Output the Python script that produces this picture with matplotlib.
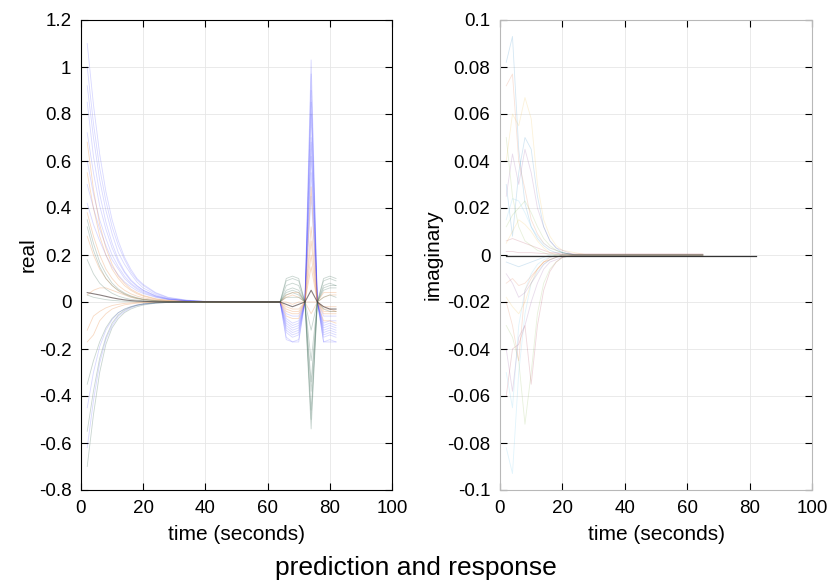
import matplotlib
matplotlib.use("Agg")
import matplotlib.pyplot as plt
from matplotlib.ticker import FuncFormatter

plt.rcParams['font.family'] = ['Liberation Sans', 'DejaVu Sans']
plt.rcParams['axes.unicode_minus'] = False

# ---------------- data: real part ----------------
t_real = [2, 4, 6, 8, 10, 12, 14, 16, 18, 20, 24, 28, 34, 40,
          64, 66, 68, 70, 72, 74, 76, 78, 80, 82]

blue_real = [
    [1.10, 0.84, 0.63, 0.47, 0.35, 0.26, 0.19, 0.14, 0.10, 0.075, 0.04, 0.02, 0.008, 0.003,
     0, -0.15, -0.17, -0.16, 0.0, 1.03, 0.0, -0.17, -0.16, -0.17],
    [1.00, 0.76, 0.57, 0.43, 0.32, 0.24, 0.18, 0.13, 0.095, 0.07, 0.037, 0.018, 0.007, 0.002,
     0, -0.13, -0.15, -0.14, 0.0, 0.90, 0.0, -0.15, -0.14, -0.15],
    [0.92, 0.70, 0.52, 0.39, 0.29, 0.21, 0.16, 0.12, 0.085, 0.06, 0.032, 0.015, 0.006, 0.002,
     0, -0.11, -0.13, -0.12, 0.0, 0.80, 0.0, -0.13, -0.12, -0.13],
    [0.85, 0.62, 0.46, 0.34, 0.25, 0.18, 0.13, 0.095, 0.07, 0.05, 0.026, 0.013, 0.005, 0.002,
     0, -0.09, -0.11, -0.10, 0.0, 0.62, 0.0, -0.11, -0.10, -0.11],
    [0.72, 0.55, 0.41, 0.31, 0.23, 0.17, 0.125, 0.09, 0.067, 0.05, 0.027, 0.014, 0.005, 0.002,
     0, -0.07, -0.09, -0.08, 0.0, 0.55, 0.0, -0.09, -0.08, -0.08],
    [0.60, 0.46, 0.35, 0.27, 0.20, 0.15, 0.11, 0.08, 0.06, 0.045, 0.024, 0.012, 0.005, 0.002,
     0, -0.12, -0.14, -0.13, 0.0, 0.70, 0.0, -0.14, -0.13, -0.14],
    [0.50, 0.40, 0.31, 0.24, 0.18, 0.14, 0.10, 0.075, 0.055, 0.04, 0.022, 0.011, 0.004, 0.001,
     0, -0.05, -0.06, -0.06, 0.0, 0.45, 0.0, -0.06, -0.06, -0.06],
    [0.42, 0.33, 0.26, 0.20, 0.15, 0.115, 0.085, 0.065, 0.048, 0.036, 0.02, 0.01, 0.004, 0.001,
     0, -0.16, -0.17, -0.17, 0.0, 0.97, 0.0, -0.17, -0.17, -0.17],
    [-0.62, -0.42, -0.26, -0.16, -0.10, -0.06, -0.04, -0.025, -0.015, -0.01, -0.004, -0.002, 0, 0,
     0, -0.10, -0.12, -0.11, 0.0, 0.85, 0.0, -0.12, -0.11, -0.12],
    [-0.45, -0.30, -0.19, -0.12, -0.075, -0.046, -0.03, -0.02, -0.012, -0.008, -0.003, -0.001, 0, 0,
     0, -0.08, -0.10, -0.09, 0.0, 0.68, 0.0, -0.10, -0.09, -0.10],
]

orange_real = [
    [0.68, 0.48, 0.33, 0.23, 0.16, 0.11, 0.08, 0.055, 0.04, 0.028, 0.014, 0.007, 0.003, 0.001,
     0, -0.04, -0.05, -0.05, 0.0, 0.49, 0.0, -0.05, -0.05, -0.05],
    [0.55, 0.40, 0.28, 0.20, 0.14, 0.10, 0.07, 0.05, 0.035, 0.025, 0.012, 0.006, 0.002, 0.001,
     0, 0.02, 0.03, 0.02, 0.0, 0.26, 0.0, 0.02, 0.03, 0.03],
    [0.38, 0.28, 0.20, 0.14, 0.10, 0.07, 0.05, 0.035, 0.025, 0.018, 0.009, 0.004, 0.002, 0,
     0, -0.06, -0.07, -0.07, 0.0, 0.32, 0.0, -0.08, -0.08, -0.09],
    [0.28, 0.20, 0.14, 0.10, 0.07, 0.05, 0.035, 0.025, 0.017, 0.012, 0.006, 0.003, 0.001, 0,
     0, 0.0, -0.01, 0.0, 0.0, -0.05, 0.0, -0.02, -0.02, -0.02],
    [0.03, 0.05, 0.06, 0.06, 0.05, 0.04, 0.03, 0.02, 0.014, 0.01, 0.005, 0.002, 0.001, 0,
     0, -0.02, -0.03, -0.03, 0.0, 0.15, 0.0, -0.03, -0.03, -0.04],
    [-0.17, -0.14, -0.08, -0.05, -0.03, -0.02, -0.012, -0.008, -0.005, -0.003, -0.001, 0, 0, 0,
     0, -0.03, -0.04, -0.04, 0.0, 0.20, 0.0, -0.04, -0.04, -0.04],
    [-0.12, -0.06, -0.04, -0.025, -0.015, -0.01, -0.006, -0.004, -0.002, -0.001, 0, 0, 0, 0,
     0, 0.03, 0.04, 0.04, 0.0, 0.0, 0.0, 0.04, 0.04, 0.04],
]

green_real = [
    [0.35, 0.25, 0.17, 0.12, 0.08, 0.055, 0.038, 0.026, 0.018, 0.012, 0.006, 0.003, 0.001, 0,
     0, 0.09, 0.10, 0.09, 0.0, -0.54, 0.0, 0.09, 0.10, 0.09],
    [0.32, 0.22, 0.15, 0.10, 0.07, 0.048, 0.033, 0.022, 0.015, 0.01, 0.005, 0.002, 0.001, 0,
     0, 0.07, 0.08, 0.07, 0.0, -0.46, 0.0, 0.07, 0.08, 0.07],
    [0.18, 0.12, 0.08, 0.055, 0.037, 0.025, 0.017, 0.011, 0.008, 0.005, 0.002, 0.001, 0, 0,
     0, 0.05, 0.06, 0.05, 0.0, -0.34, 0.0, 0.05, 0.06, 0.06],
    [0.03, 0.02, 0.015, 0.01, 0.007, 0.005, 0.003, 0.002, 0.001, 0.001, 0, 0, 0, 0,
     0, 0.02, 0.02, 0.02, 0.0, -0.12, 0.0, 0.02, 0.03, 0.02],
    [-0.70, -0.48, -0.30, -0.18, -0.11, -0.07, -0.045, -0.03, -0.02, -0.013, -0.005, -0.002, -0.001, 0,
     0, 0.10, 0.11, 0.10, 0.0, -0.50, 0.0, 0.10, 0.11, 0.10],
    [-0.55, -0.38, -0.24, -0.15, -0.09, -0.055, -0.035, -0.022, -0.014, -0.009, -0.004, -0.002, 0, 0,
     0, 0.03, 0.04, 0.03, 0.0, -0.25, 0.0, -0.03, -0.04, -0.04],
    [-0.35, -0.25, -0.17, -0.11, -0.07, -0.045, -0.03, -0.02, -0.013, -0.008, -0.003, -0.001, 0, 0,
     0, 0.04, 0.05, 0.04, 0.0, -0.38, 0.0, 0.06, 0.07, 0.07],
]

dark_real = [0.04, 0.035, 0.03, 0.024, 0.018, 0.013, 0.009, 0.006, 0.004, 0.003, 0.001, 0.0, 0.0, 0,
             0, -0.01, -0.02, -0.01, 0.0, 0.05, 0.0, -0.02, -0.03, -0.03]

# ---------------- data: imaginary part ----------------
t_imag = [2, 4, 6, 8, 10, 12, 14, 16, 18, 20, 24, 28, 34, 40, 65]

imag_series = [
    [0.082, 0.093, 0.045, 0.022, 0.012, 0.007, 0.004, 0.002, 0.001, 0.001, 0, 0, 0, 0, 0],
    [0.072, 0.077, 0.040, 0.028, 0.015, 0.009, 0.005, 0.003, 0.002, 0.001, 0, 0, 0, 0, 0],
    [0.040, 0.060, 0.055, 0.067, 0.058, 0.030, 0.015, 0.008, 0.004, 0.002, 0.001, 0, 0, 0, 0],
    [0.025, 0.043, 0.030, 0.045, 0.035, 0.020, 0.012, 0.006, 0.003, 0.002, 0, 0, 0, 0, 0],
    [0.012, 0.017, 0.020, 0.023, 0.018, 0.012, 0.007, 0.004, 0.002, 0.001, 0, 0, 0, 0, 0],
    [0.015, 0.024, 0.023, 0.018, 0.012, 0.008, 0.005, 0.003, 0.002, 0.001, 0, 0, 0, 0, 0],
    [0.006, 0.007, 0.006, 0.005, 0.004, 0.003, 0.002, 0.001, 0.001, 0, 0, 0, 0, 0, 0],
    [-0.003, -0.004, -0.005, -0.004, -0.003, -0.002, -0.001, 0, 0, 0, 0, 0, 0, 0, 0],
    [-0.012, -0.010, -0.013, -0.012, -0.009, -0.006, -0.003, -0.002, -0.001, 0, 0, 0, 0, 0, 0],
    [-0.018, -0.022, -0.025, -0.020, -0.012, -0.006, -0.003, -0.002, -0.001, 0, 0, 0, 0, 0, 0],
    [-0.040, -0.058, -0.035, -0.030, -0.020, -0.012, -0.006, -0.003, -0.002, -0.001, 0, 0, 0, 0, 0],
    [-0.030, -0.035, -0.045, -0.072, -0.050, -0.025, -0.012, -0.006, -0.003, -0.001, 0, 0, 0, 0, 0],
    [-0.082, -0.093, -0.050, -0.025, -0.012, -0.007, -0.004, -0.002, -0.001, 0, 0, 0, 0, 0, 0],
    [-0.060, -0.040, -0.038, -0.030, -0.055, -0.030, -0.015, -0.007, -0.003, -0.001, 0, 0, 0, 0, 0],
    [0.030, 0.008, 0.035, 0.050, 0.045, 0.025, 0.012, 0.006, 0.003, 0.001, 0, 0, 0, 0, 0],
    [-0.020, -0.030, -0.045, -0.015, -0.010, -0.006, -0.003, -0.001, 0, 0, 0, 0, 0, 0, 0],
    [0.005, 0.010, 0.015, 0.013, 0.010, 0.006, 0.003, 0.001, 0, 0, 0, 0, 0, 0, 0],
    [-0.008, -0.012, -0.018, -0.016, -0.012, -0.008, -0.004, -0.002, -0.001, 0, 0, 0, 0, 0, 0],
    [0.050, 0.025, 0.012, 0.006, 0.004, 0.002, 0.001, 0, 0, 0, 0, 0, 0, 0, 0],
    [-0.050, -0.065, -0.030, -0.015, -0.008, -0.004, -0.002, -0.001, 0, 0, 0, 0, 0, 0, 0],
    [0.0015, 0.0015, 0.001, 0.001, 0.001, 0.0008, 0.0006, 0.0005, 0.0005, 0.0005, 0.0005, 0.0005, 0.0005, 0.0005, 0.0005],
]
t_imag_dark = [2, 82]
dark_imag = [-0.0003, -0.0003]

matlab_colors = ['#0072BD', '#D95319', '#EDB120', '#7E2F8E', '#77AC30', '#4DBEEE', '#A2142F']

# ---------------- figure ----------------
fig = plt.figure(figsize=(8.33, 5.86), dpi=100)
ax1 = fig.add_axes([81 / 833, 1 - 490 / 586, 311 / 833, 470 / 586])
ax2 = fig.add_axes([500 / 833, 1 - 490 / 586, 312 / 833, 470 / 586])

lw = 0.6
for s in blue_real:
    ax1.plot(t_real, s, color='#2a2aff', alpha=0.18, lw=lw)
for s in orange_real:
    ax1.plot(t_real, s, color='#e8843a', alpha=0.3, lw=lw)
for s in green_real:
    ax1.plot(t_real, s, color='#3d6b58', alpha=0.28, lw=lw)
ax1.plot(t_real, dark_real, color='#3a2a2a', alpha=0.6, lw=0.8)

for i, s in enumerate(imag_series):
    ax2.plot(t_imag, s, color=matlab_colors[i % 7], alpha=0.17, lw=lw)
ax2.plot(t_imag_dark, dark_imag, color='#333333', lw=0.9)


def fmt(v, pos):
    s = f"{v:.2f}".rstrip('0').rstrip('.')
    if s in ('-0', ''):
        s = '0'
    return s


for ax, ylo, yhi, ystep, ylab, lp in [(ax1, -0.8, 1.2, 0.2, 'real', 1),
                                       (ax2, -0.1, 0.1, 0.02, 'imaginary', 3)]:
    ax.set_xlim(0, 100)
    ax.set_ylim(ylo, yhi)
    ax.set_xticks([0, 20, 40, 60, 80, 100])
    n = int(round((yhi - ylo) / ystep))
    ax.set_yticks([ylo + k * ystep for k in range(n + 1)])
    ax.yaxis.set_major_formatter(FuncFormatter(fmt))
    ax.grid(True, color='#e6e6e6', lw=0.6)
    ax.set_axisbelow(True)
    ax.tick_params(direction='in', length=5, width=0.8, labelsize=13.5, top=True, right=True,
                   color='black', pad=7)
    ax.set_xlabel('time (seconds)', fontsize=15, labelpad=6)
    ax.set_ylabel(ylab, fontsize=15, labelpad=lp)

for sp in ax1.spines.values():
    sp.set_color('black')
    sp.set_linewidth(0.8)
for sp in ax2.spines.values():
    sp.set_color('#b8b8b8')
    sp.set_linewidth(0.8)

fig.text(416 / 833, 1 - 568 / 586, 'prediction and response', ha='center', va='center', fontsize=19)

fig.savefig('out.png', dpi=100)
